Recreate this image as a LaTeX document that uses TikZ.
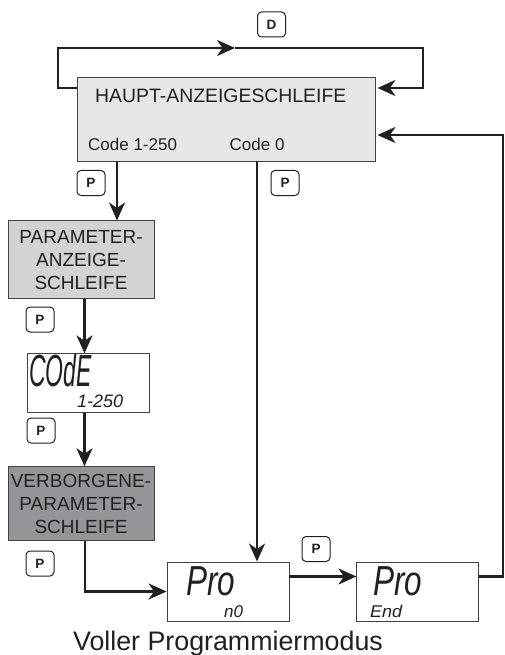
\documentclass[tikz,border=0pt]{standalone}
\usepackage{fontspec}
\setmainfont{Liberation Sans}
\usepackage{xcolor}
\usetikzlibrary{positioning, arrows.meta}
\definecolor{mainfill}{HTML}{E6E7E8}
\definecolor{paramfill}{HTML}{D1D3D4}
\definecolor{hiddenfill}{HTML}{939598}
\definecolor{inkdark}{HTML}{231F20}
\newcommand{\lcdtext}[3]{\scalebox{#2}[1]{\fontsize{#1}{#1}\selectfont\itshape #3}}

\begin{document}
\begin{tikzpicture}[x=1pt, y=1pt, >={Stealth[length=18pt, width=16pt, inset=5.5pt]}, inkdark,
    flow/.style={draw=inkdark, line width=2.3pt},
    loopbox/.style={draw=inkdark!85, line width=0.9pt, minimum width=146pt, minimum height=78pt, inner sep=0pt, align=center, font=\fontsize{19}{23}\selectfont},
    lcdbox/.style={draw=inkdark!85, fill=white, line width=0.9pt, minimum width=122pt, minimum height=59pt, inner sep=0pt},
    keycap/.style={draw=inkdark, rounded corners=4pt, line width=1pt, minimum width=28pt, minimum height=25pt, inner sep=0pt, font=\bfseries\fontsize{13.5}{15}\selectfont},
    lcd/.style={inner sep=0pt, anchor=base west}]
  \useasboundingbox (0,0) rectangle (504,-655);
  % loop boxes
  \node (main) [draw=inkdark!85, fill=mainfill, line width=0.9pt, minimum width=298pt, minimum height=84pt, inner sep=0pt] at (226,-119) {};
  \node (mainhead) [inner sep=0pt, anchor=base west, font=\fontsize{19.4}{22}\selectfont] at (95,-103) {HAUPT-ANZEIGESCHLEIFE};
  \node (codeA) [inner sep=0pt, anchor=base west, font=\fontsize{17}{20}\selectfont] at (88,-150) {Code 1-250};
  \node (codeB) [inner sep=0pt, anchor=base west, font=\fontsize{17}{20}\selectfont] at (229.5,-150) {Code 0};
  \node (param) [loopbox, fill=paramfill, below=59pt of main, xshift=-145pt] {PARAMETER-\\ANZEIGE-\\SCHLEIFE};
  \node (code) [lcdbox, below=54pt of param, xshift=7pt] {};
  \node (hidden) [loopbox, fill=hiddenfill, minimum height=74pt, below=53pt of code, xshift=-7pt] {VERBORGENE-\\PARAMETER-\\SCHLEIFE};
  \node (prono) [lcdbox] at (228,-591.5) {};
  \node (proend) [lcdbox, right=67pt of prono] {};
  % display texts
  \node (codebig) [lcd] at (29,-386) {\lcdtext{45}{0.51}{COdE}};
  \node (codesmall) [lcd] at (77,-407.5) {\lcdtext{18}{1.0}{1-250}};
  \node (pronobig) [lcd] at (186,-595.5) {\lcdtext{42}{0.75}{Pro}};
  \node (pronosmall) [lcd] at (224,-617) {\lcdtext{17}{1.0}{n0}};
  \node (proendbig) [lcd] at (373,-595.5) {\lcdtext{42}{0.75}{Pro}};
  \node (proendsmall) [lcd] at (370,-617) {\lcdtext{17}{1.06}{End}};
  % keys
  \node (keyD) [keycap] at (271.5,-24.5) {D};
  \node (keyA) [keycap] at (91,-183) {P};
  \node (keyB) [keycap] at (285,-183) {P};
  \node (keyC) [keycap] at (40,-319.5) {P};
  \node (keyE) [keycap] at (41,-430.5) {P};
  \node (keyF) [keycap] at (40,-563.5) {P};
  \node (keyG) [keycap] at (316,-549) {P};
  \node (title) [inner sep=0pt, anchor=base, font=\fontsize{26.8}{30}\selectfont] at (228,-650) {Voller Programmiermodus};
  % connectors
  \coordinate (loopL) at (58,-48);
  \coordinate (loopM) at (235,-48);
  \coordinate (loopR) at (423,-48);
  \coordinate (backR) at (503,-135);
  \draw[flow, ->] ([yshift=31pt]main.west) -| (loopL) -- (loopM);
  \draw[flow, ->] (loopM) -- (loopR) |- ([xshift=2pt, yshift=31pt]main.east);
  \draw[flow, ->] ([xshift=-109pt]main.south) -- ([xshift=36pt]param.north);
  \draw[flow, ->] ([xshift=31pt]main.south) -- ([xshift=29pt]prono.north);
  \draw[flow, ->] ([xshift=3.5pt]param.south) -- ([xshift=-3.5pt]code.north);
  \draw[flow, ->] ([xshift=-3.5pt]code.south) -- ([xshift=3.5pt]hidden.north);
  \draw[flow, ->] ([xshift=4pt]hidden.south) |- (prono.west);
  \draw[flow, ->] ([yshift=15pt]prono.east) -- ([yshift=15pt]proend.west);
  \draw[flow, ->] ([yshift=15pt]proend.east) -| (backR) -- ([xshift=2pt, yshift=-16pt]main.east);
\end{tikzpicture}
\end{document}
